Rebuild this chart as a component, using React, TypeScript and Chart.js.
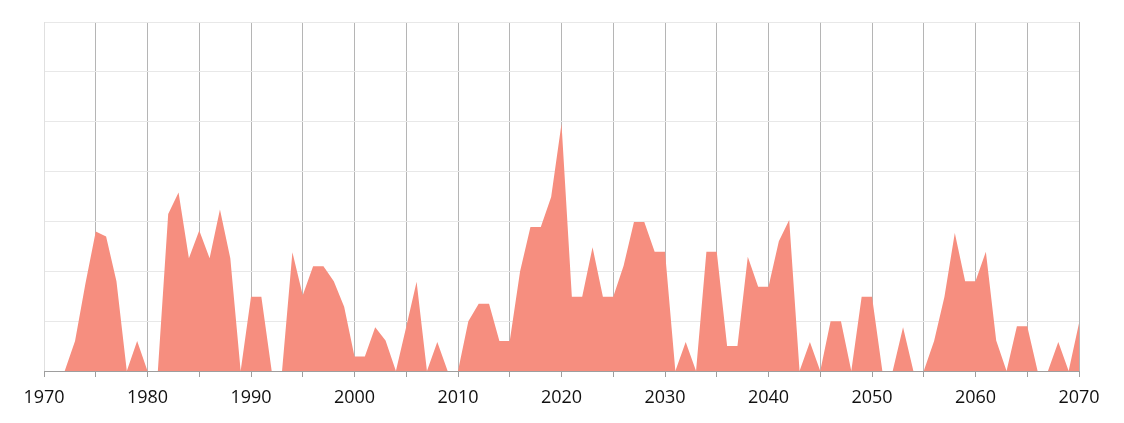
import React, { useEffect, useRef } from "react";
import { Chart, registerables } from "chart.js";

Chart.register(...registerables);

const startYear = 1970;
const endYear = 2070;

const values: number[] = [
  0, 0, 0, 0.6, 1.75, 2.8, 2.7, 1.8, 0, 0.6,
  0, 0, 3.15, 3.58, 2.26, 2.82, 2.26, 3.24, 2.26, 0,
  1.49, 1.49, 0, 0, 2.38, 1.52, 2.1, 2.1, 1.8, 1.29,
  0.29, 0.29, 0.88, 0.61, 0, 0.89, 1.79, 0, 0.58, 0,
  0, 1.0, 1.35, 1.35, 0.6, 0.6, 2.0, 2.89, 2.89, 3.49,
  4.96, 1.49, 1.49, 2.48, 1.49, 1.49, 2.11, 2.99, 2.99, 2.39,
  2.39, 0, 0.58, 0, 2.39, 2.39, 0.5, 0.5, 2.29, 1.69,
  1.69, 2.6, 3.03, 0, 0.58, 0, 1.0, 1.0, 0, 1.49,
  1.49, 0, 0, 0.88, 0, 0, 0.6, 1.49, 2.77, 1.8,
  1.8, 2.39, 0.61, 0, 0.9, 0.9, 0, 0, 0.58, 0,
  0.96,
];

const years: number[] = values.map((_, i) => startYear + i);

const tickLabels: string[] = [
  "1970", "1980", "1990", "2000", "2010", "2020",
  "2030", "2040", "2050", "2060", "2070",
];

const FILL = "#f68e7f";

export default function App() {
  const ref = useRef<HTMLCanvasElement | null>(null);

  useEffect(() => {
    if (!ref.current) return;
    const bottomLine = {
      id: "bottomLine",
      afterDatasetsDraw(chart: any) {
        const { ctx, chartArea } = chart;
        const y = chart.scales.y.getPixelForValue(0);
        ctx.save();
        ctx.strokeStyle = "#9e9e9e";
        ctx.lineWidth = 1;
        ctx.beginPath();
        ctx.moveTo(chartArea.left, Math.round(y) + 0.5);
        ctx.lineTo(chartArea.right, Math.round(y) + 0.5);
        ctx.stroke();
        ctx.restore();
      },
    };
    const chart = new Chart(ref.current, {
      type: "line",
      data: {
        datasets: [
          {
            data: years.map((yr, i) => ({ x: yr, y: values[i] })),
            fill: "origin",
            backgroundColor: FILL,
            borderColor: FILL,
            borderWidth: 0,
            pointRadius: 0,
            tension: 0,
          },
        ],
      },
      options: {
        responsive: false,
        animation: false,
        layout: { padding: { left: 44, right: 45, top: 22, bottom: 0 } },
        plugins: {
          legend: { display: false },
          tooltip: { enabled: false },
        },
        scales: {
          x: {
            type: "linear",
            min: startYear,
            max: endYear,
            afterFit: (s: any) => {
              s.height = 52;
            },
            ticks: {
              stepSize: 5,
              autoSkip: false,
              maxRotation: 0,
              padding: 10,
              color: "#111",
              font: { family: "Open Sans", size: 18 },
              callback: (v: any) => {
                const label = String(v);
                return tickLabels.includes(label) ? label : "";
              },
            },
            grid: {
              color: (c: any) => (c.tick && c.tick.value === startYear ? "#e0e0e0" : "#b5b5b5"),
              tickColor: "#9e9e9e",
              tickLength: 6,
            },
            border: { display: true, color: "#9e9e9e" },
          },
          y: {
            min: 0,
            max: 7,
            afterFit: (s: any) => {
              s.width = 0;
            },
            ticks: { stepSize: 1, display: false },
            grid: { color: "#e8e8e8", drawTicks: false },
            border: { display: true, color: "#e0e0e0" },
          },
        },
      },
      plugins: [bottomLine],
    });
    return () => chart.destroy();
  }, []);

  return (
    <div style={{ position: "absolute", left: 0, top: 0, width: 1124, height: 423 }}>
      <canvas ref={ref} width={1124} height={423} />
    </div>
  );
}
